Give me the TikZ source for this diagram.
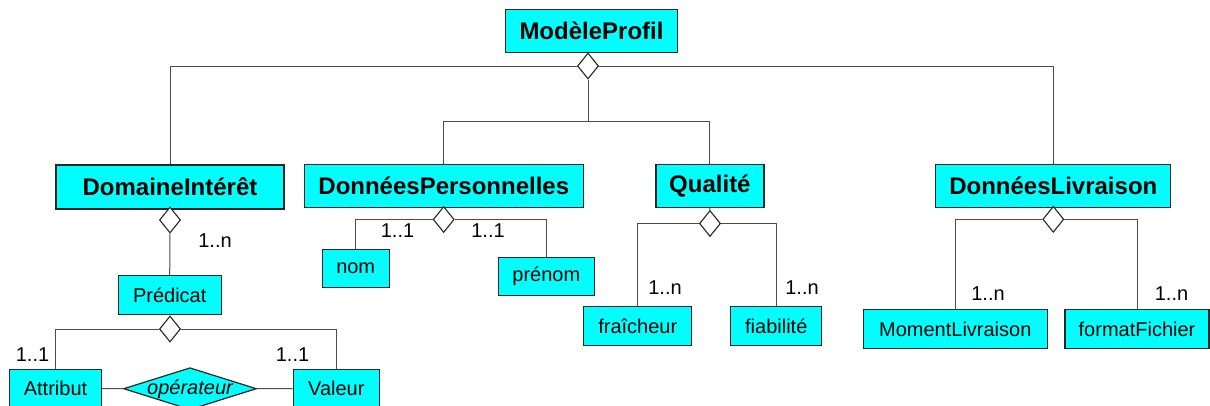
\documentclass[tikz,border=0pt]{standalone}
\usepackage{fontspec}
\setmainfont{Liberation Sans}
\usetikzlibrary{shapes.geometric}
\definecolor{fondcyan}{RGB}{0,255,255}
\begin{document}
\begin{tikzpicture}[x=1pt, y=-1pt,
	every node/.style = {inner sep=0pt, align=center},
	classe/.style = {shape=rectangle, draw=black!85, line width=1.2pt, fill=fondcyan, font=\fontsize{24}{28}\selectfont\bfseries, minimum height=43pt},
	attr/.style = {shape=rectangle, draw=black!85, line width=1.2pt, fill=fondcyan, font=\fontsize{20}{24}\selectfont, minimum height=38.5pt},
	agreg/.style = {shape=diamond, shape aspect=0.8, draw=black!85, line width=1.1pt, fill=white, minimum width=21pt, minimum height=26pt},
	card/.style = {font=\fontsize{20}{24}\selectfont},
	lien/.style = {draw=black!70, line width=1pt}]
			\path[fill=white, use as bounding box] (0,0) rectangle (1210,405);
			\node[classe, minimum width=172pt] (profil) at (591.5,30.8) {ModèleProfil};
			\node[classe, minimum width=228pt, minimum height=44pt] (domaine) at (170,187) {DomaineIntérêt};
			\node[classe, minimum width=279pt] (perso) at (443.8,186) {DonnéesPersonnelles};
			\node[classe, minimum width=108pt] (qualite) at (709.9,186) {Qualité};
			\node[classe, minimum width=235pt] (livraison) at (1053.3,186) {DonnéesLivraison};
			\node[attr, minimum width=103pt] (predicat) at (169.7,295) {Prédicat};
			\node[attr, minimum width=67pt] (nom) at (355.7,268.5) {nom};
			\node[attr, minimum width=96pt] (prenom) at (546.3,276.5) {prénom};
			\node[attr, minimum width=108pt] (fraicheur) at (637.8,326) {fraîcheur};
			\node[attr, minimum width=91pt] (fiabilite) at (776.3,326) {fiabilité};
			\node[attr, minimum width=184pt] (moment) at (955.3,329) {MomentLivraison};
			\node[attr, minimum width=144pt] (format) at (1137,329) {formatFichier};
			\node[attr, minimum width=92pt] (attribut) at (55.5,388.5) {Attribut};
			\node[attr, minimum width=86pt] (valeur) at (336.3,388.5) {Valeur};
			\node[attr, shape=diamond, shape aspect=3.17, text height=12pt, text depth=1.4pt, minimum width=133pt, minimum height=42pt, font=\fontsize{20}{24}\selectfont\itshape] (operateur) at (190,388.7) {opérateur};
			\node[agreg] (aProfil) at (588,66) {};
			\node[agreg] (aDomaine) at (170,220) {};
			\node[agreg] (aPredicat) at (170,329) {};
			\node[agreg] (aPerso) at (443.7,219.5) {};
			\node[agreg] (aQualite) at (710,223.5) {};
			\node[agreg] (aLivraison) at (1053.3,219.3) {};
			\coordinate (jonction) at (588,121.7);
			\draw[lien] (aProfil.west) -| (domaine.north);
			\draw[lien] (aProfil.east) -| (livraison.north);
			\draw[lien] (aProfil.south) -- (jonction);
			\draw[lien] (perso.north) |- (jonction) -| (qualite.north);
			\draw[lien] (aDomaine.south) -- (predicat.north);
			\draw[lien] (aPredicat.west) -| (attribut.north);
			\draw[lien] (aPredicat.east) -| (valeur.north);
			\draw[lien] (attribut.east) -- (operateur.west);
			\draw[lien] (operateur.east) -- (valeur.west);
			\draw[lien] (aPerso.west) -| (nom.north);
			\draw[lien] (aPerso.east) -| (prenom.north);
			\draw[lien] (qualite.south) -- (aQualite.north);
			\draw[lien] (aQualite.west) -| (fraicheur.north);
			\draw[lien] (aQualite.east) -| (fiabilite.north);
			\draw[lien] (aLivraison.west) -| (moment.north);
			\draw[lien] (aLivraison.east) -| (format.north);
			\node[card] (cDomaine) at (215,240.7) {1..n};
			\node[card] (cAttribut) at (32.5,355) {1..1};
			\node[card] (cValeur) at (292.5,354.5) {1..1};
			\node[card] (cNom) at (397.5,230.7) {1..1};
			\node[card] (cPrenom) at (488,230.7) {1..1};
			\node[card] (cFraicheur) at (665,287.3) {1..n};
			\node[card] (cFiabilite) at (802,287.3) {1..n};
			\node[card] (cMoment) at (988,293.3) {1..n};
			\node[card] (cFormat) at (1171.5,293.3) {1..n};
		\end{tikzpicture}
\end{document}
